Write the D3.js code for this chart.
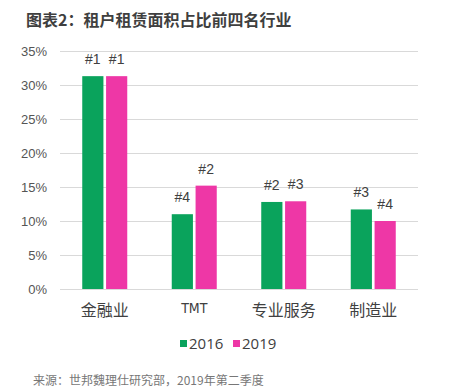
<!DOCTYPE html>
<html><head><meta charset="utf-8">
<script src="https://cdn.jsdelivr.net/npm/d3@7/dist/d3.min.js"></script>
<style>
html,body{margin:0;padding:0;background:#fff;}
svg{display:block;font-family:"Noto Sans CJK SC","Noto Sans",sans-serif;}
</style></head>
<body><svg id="c" width="450" height="390"></svg>
<script>
const categories = ["金融业", "TMT", "专业服务", "制造业"];
const seriesNames = ["2016", "2019"];
const values2016 = [31.3, 11.0, 12.8, 11.7];
const values2019 = [31.3, 15.2, 12.9, 10.0];
const ranks2016 = ["#1", "#4", "#2", "#3"];
const ranks2019 = ["#1", "#2", "#3", "#4"];
const yTicks = [0, 5, 10, 15, 20, 25, 30, 35];
const colors = ["#0aa35c", "#ee37a6"];

const svg = d3.select("#c");
const m = {left: 60, right: 32, top: 51, bottom: 101};
const W = 450, H = 390;
const x = d3.scaleBand().domain(categories).range([m.left, W - m.right]).paddingInner(0).paddingOuter(0);
const y = d3.scaleLinear().domain([0, 35]).range([H - m.bottom, m.top]);

// title
svg.append("text").attr("x", 26).attr("y", 26)
  .attr("font-size", 16).attr("font-weight", "bold").attr("fill", "#3f3f3f")
  .text("图表2：租户租赁面积占比前四名行业");

// grid
const yAxis = d3.axisLeft(y).tickValues(yTicks).tickFormat(d => d + "%").tickSize(-(W - m.right - m.left)).tickPadding(13);
const ga = svg.append("g").attr("transform", `translate(${m.left},0)`).call(yAxis);
ga.select(".domain").remove();
ga.selectAll(".tick line").attr("stroke", "#d9d9d9").attr("stroke-width", 1);
ga.selectAll(".tick text").attr("font-family", "'Liberation Sans', Arial, sans-serif")
  .attr("font-size", 13).attr("fill", "#555");

// bars
const series = [values2016, values2019];
const ranks = [ranks2016, ranks2019];
const barW = 20, gap = 5;
const xs = d3.scaleBand().domain(seriesNames).range([0, barW * 2 + gap]).paddingInner(gap / (barW * 2 + gap));
series.forEach((vals, si) => {
  const g = svg.append("g");
  g.selectAll("rect").data(categories).join("rect")
    .attr("x", (c) => x(c) + x.bandwidth() / 2 - (barW * 2 + gap) / 2 + xs(seriesNames[si]))
    .attr("y", (c, i) => y(vals[i]))
    .attr("width", xs.bandwidth())
    .attr("height", (c, i) => y(0) - y(vals[i]))
    .attr("fill", colors[si]);
  g.selectAll("text").data(categories).join("text")
    .attr("x", (c) => x(c) + x.bandwidth() / 2 - (barW * 2 + gap) / 2 + xs(seriesNames[si]) + xs.bandwidth() / 2)
    .attr("y", (c, i) => y(vals[i]) - 12)
    .attr("text-anchor", "middle")
    .attr("font-family", "'Liberation Sans', Arial, sans-serif")
    .attr("font-size", 14).attr("fill", "#404040")
    .text((c, i) => ranks[si][i]);
});

// category labels
svg.append("g").selectAll("text").data(categories).join("text")
  .attr("x", c => x(c) + x.bandwidth() / 2)
  .attr("y", 316)
  .attr("text-anchor", "middle")
  .attr("font-size", c => c === "TMT" ? 14 : 16)
  .attr("font-family", c => c === "TMT" ? "'DejaVu Sans Condensed','Liberation Sans Narrow',sans-serif" : null)
  .attr("fill", "#404040")
  .attr("dy", c => c === "TMT" ? -3 : 0)
  .text(c => c);

// legend
const leg = [{x: 180}, {x: 233}];
seriesNames.forEach((s, i) => {
  svg.append("rect").attr("x", leg[i].x).attr("y", 340).attr("width", 7).attr("height", 7).attr("fill", colors[i]);
  svg.append("text").attr("x", leg[i].x + 9).attr("y", 349)
    .attr("font-family", "'Open Sans','Noto Sans',sans-serif")
    .attr("font-size", 15).attr("fill", "#404040").text(s);
});

// source
svg.append("text").attr("x", 33).attr("y", 385)
  .attr("font-size", 12).attr("fill", "#777")
  .text("来源：世邦魏理仕研究部，2019年第二季度");
</script>
</body></html>
